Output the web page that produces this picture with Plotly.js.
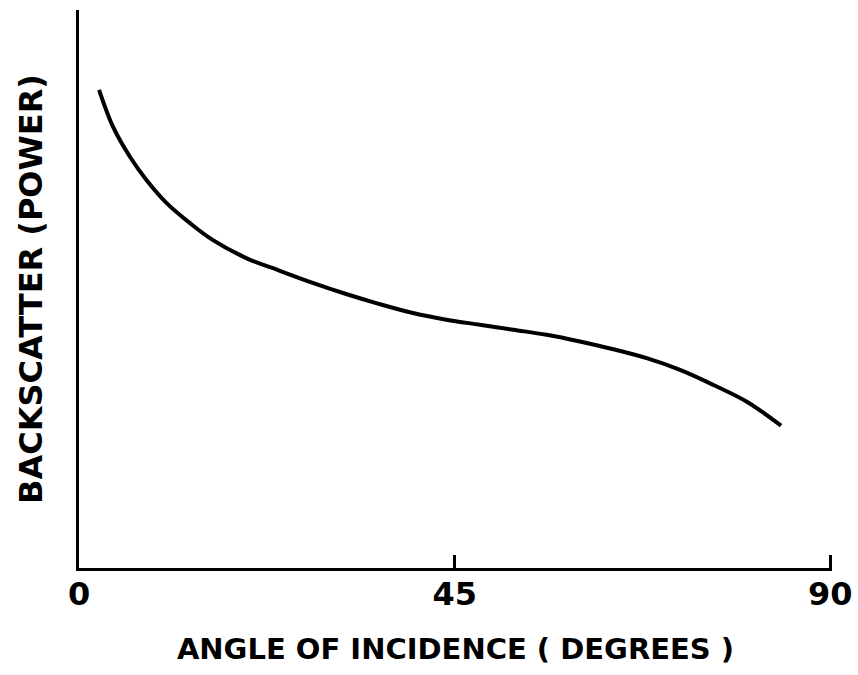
<!DOCTYPE html>
<html>
<head>
<meta charset="utf-8">
<script src="https://cdn.plot.ly/plotly-3.0.1.min.js"></script>
<style>
  html, body { margin: 0; padding: 0; background: #fff; }
  #chart { width: 858px; height: 675px; }
</style>
</head>
<body>
<div id="chart"></div>
<script>
// Angle of incidence (degrees) along the curve
const angleDeg = [2.4, 4.1, 6.1, 8.1, 10.5, 13.3, 16.0, 20.1, 24.0, 28.0, 32.0, 36.0,
                  40.0, 44.0, 48.0, 52.0, 56.0, 60.0, 64.0, 68.0, 72.0, 76.0, 80.0, 84.1];
// Relative backscattered power (arbitrary units)
const backscatter = [85.7, 79.0, 73.7, 69.5, 65.4, 61.8, 58.8, 55.5, 53.3, 51.1, 49.1, 47.3,
                     45.7, 44.5, 43.6, 42.7, 41.8, 40.6, 39.2, 37.6, 35.5, 32.8, 29.8, 25.5];
// Axis tick positions and labels
const xTickVals = [0, 45, 90];
const xTickText = ['0', '45', '90'];

const font = 'DejaVu Sans, sans-serif';

const trace = {
  x: angleDeg,
  y: backscatter,
  type: 'scatter',
  mode: 'lines',
  line: { color: '#000', width: 4, shape: 'spline', smoothing: 1 },
  hoverinfo: 'skip'
};

const layout = {
  width: 858,
  height: 675,
  margin: { l: 79, r: 26, t: 10, b: 107 },
  paper_bgcolor: '#fff',
  plot_bgcolor: '#fff',
  showlegend: false,
  xaxis: {
    // a hair past 90 so the end tick is still drawn
    range: [0, 90.2],
    showgrid: false,
    zeroline: false,
    showline: true,
    linecolor: '#000',
    linewidth: 3,
    ticks: 'inside',
    ticklen: 13,
    tickwidth: 2.5,
    tickcolor: '#000',
    tickvals: xTickVals,
    ticktext: xTickText,
    ticklabelstandoff: -4,
    tickfont: { family: font, size: 32, color: '#000', weight: 'bold' },
    title: {
      text: 'ANGLE OF INCIDENCE ( DEGREES )',
      font: { family: font, size: 29, color: '#000', weight: 'bold' },
      standoff: 27
    }
  },
  yaxis: {
    range: [0, 100],
    showgrid: false,
    zeroline: false,
    showline: true,
    linecolor: '#000',
    linewidth: 3,
    ticks: '',
    showticklabels: false,
    title: {
      text: 'BACKSCATTER (POWER)',
      font: { family: font, size: 32, color: '#000', weight: 'bold' },
      standoff: 24
    }
  }
};

Plotly.newPlot('chart', [trace], layout, { staticPlot: true, displayModeBar: false });
</script>
</body>
</html>
